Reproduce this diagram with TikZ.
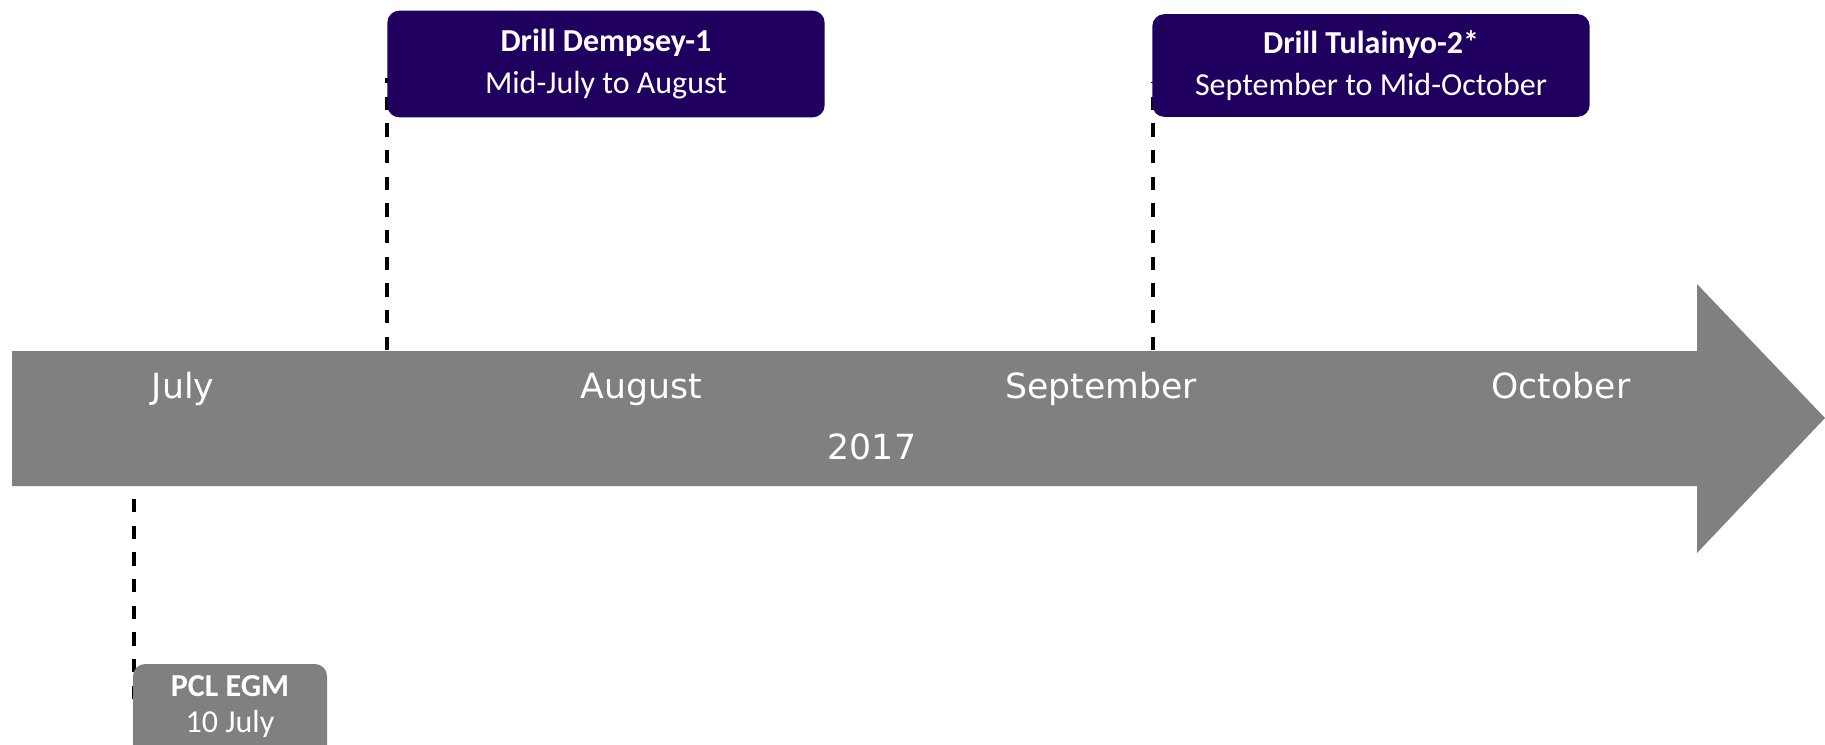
\documentclass[tikz,border=0pt]{standalone}
\usepackage{fontspec}
\setmainfont{Carlito}
\newfontfamily\monthfont{DejaVu Sans}
\definecolor{drillpurple}{HTML}{1F005F}
\definecolor{bargray}{HTML}{808080}
\begin{document}
\begin{tikzpicture}[x=0.75pt,y=-0.75pt,
  drillbox/.style={fill=drillpurple, rounded corners=9pt, minimum width=328pt, minimum height=80pt, inner sep=0pt, text=white, align=center, font=\fontsize{24pt}{31pt}\selectfont},
  graybox/.style={fill=bargray, rounded corners=9pt, minimum width=145.5pt, minimum height=78pt, inner sep=0pt},
  graylabel/.style={text=white, align=center, font=\fontsize{24pt}{27pt}\selectfont},
  monthlabel/.style={text=white, anchor=base, font=\monthfont\fontsize{26pt}{30pt}\selectfont},
  leader/.style={draw=black, line width=2.5pt, dash pattern=on 10pt off 10pt}
]
\useasboundingbox (0,0) rectangle (1825,744);
\clip (0,0) rectangle (1825,744);
% timeline arrow
\fill[bargray] (12,351) -- (1697,351) -- (1697,284) -- (1825,418) -- (1697,553) -- (1697,486) -- (12,486) -- cycle;
% month labels
\node[monthlabel] (jul) at (183,398) {July};
\node[monthlabel] (aug) at (641,398) {August};
\node[monthlabel] (sep) at (1101,398) {September};
\node[monthlabel] (oct) at (1561,398) {October};
\node[monthlabel] (year) at (872,459) {2017};
% leader coordinates
\coordinate (d1a) at (387,350);
\coordinate (d1b) at (387,78);
\coordinate (d2a) at (1153,350);
\coordinate (d2b) at (1153,82);
\coordinate (d3a) at (134,499);
\coordinate (d3b) at (134,704);
% leaders
\draw[leader] (d1a) -- (d1b);
\draw[leader] (d2a) -- (d2b);
\draw[leader] (d3a) -- (d3b);
% boxes
\node[drillbox] (dempsey) at (606,64) {\textbf{Drill Dempsey-1}\\Mid-July to August};
\node[drillbox, minimum height=77pt] (tulainyo) at (1371,65.5) {\textbf{Drill Tulainyo-2*}\\September to Mid-October};
\node[graybox] (pcl) at (230,716) {};
\node[graylabel] (pcltext) at (230,707) {\textbf{PCL EGM}\\10 July};
\end{tikzpicture}
\end{document}
